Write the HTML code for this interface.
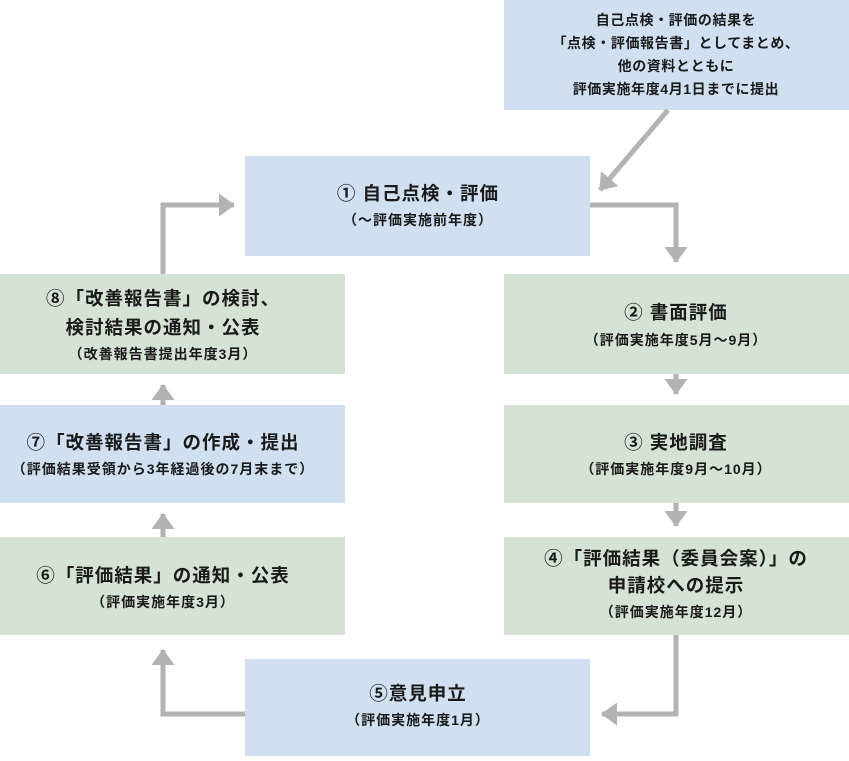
<!DOCTYPE html>
<html><head><meta charset="utf-8"><style>
body{margin:0;background:#fff}
svg text{font-family:"Liberation Sans","Noto Sans CJK JP",sans-serif;fill:#1a1a1a;text-anchor:middle;font-weight:bold}
.t{font-size:18.5px;letter-spacing:1px}.s{font-size:14px;letter-spacing:1px}.m{font-size:14px;letter-spacing:0.6px}
</style></head><body>
<svg width="849" height="756" viewBox="0 0 849 756" xmlns="http://www.w3.org/2000/svg">
<defs><marker id="a" markerWidth="5" markerHeight="5" refX="3" refY="2.5" orient="auto" markerUnits="strokeWidth"><path d="M0,0.2 L3.2,2.5 L0,4.8z" fill="#b3b3b3"/></marker></defs>
<g fill="#d0e0f0">
<rect x="504" y="0" width="345" height="110"/>
<rect x="245" y="156" width="345" height="100"/>
<rect x="245" y="659" width="345" height="97"/>
<rect x="0" y="405" width="345" height="98"/>
</g>
<g fill="#d4e3d3">
<rect x="504" y="274" width="345" height="100"/>
<rect x="504" y="405" width="345" height="98"/>
<rect x="504" y="537" width="345" height="98"/>
<rect x="0" y="537" width="345" height="98"/>
<rect x="0" y="274" width="345" height="100"/>
</g>
<g stroke="#b3b3b3" stroke-width="5" fill="none" marker-end="url(#a)">
<line x1="668" y1="110" x2="600" y2="190"/>
<polyline points="590,205 676,205 676,262"/>
<line x1="676" y1="374" x2="676" y2="394"/>
<line x1="676" y1="503" x2="676" y2="526"/>
<polyline points="676,635 676,714 602,714"/>
<polyline points="245,714 163,714 163,650"/>
<line x1="163" y1="537" x2="163" y2="514"/>
<line x1="163" y1="405" x2="163" y2="385"/>
<polyline points="163,274 163,205 234,205"/>
</g>
<text class="m" x="676" y="25">自己点検・評価の結果を</text>
<text class="m" x="676" y="48">「点検・評価報告書」としてまとめ、</text>
<text class="m" x="676" y="71">他の資料とともに</text>
<text class="m" x="676" y="94">評価実施年度4月1日までに提出</text>
<text class="t" x="418" y="200">① 自己点検・評価</text>
<text class="s" x="418" y="225">（～評価実施前年度）</text>
<text class="t" x="676" y="319">② 書面評価</text>
<text class="s" x="676" y="345">（評価実施年度5月～9月）</text>
<text class="t" x="676" y="449">③ 実地調査</text>
<text class="s" x="676" y="474">（評価実施年度9月～10月）</text>
<text class="t" x="676" y="565">④「評価結果（委員会案）」の</text>
<text class="t" x="676" y="592">申請校への提示</text>
<text class="s" x="676" y="617">（評価実施年度12月）</text>
<text class="t" x="418" y="700">⑤意見申立</text>
<text class="s" x="418" y="725">（評価実施年度1月）</text>
<text class="t" x="163" y="582">⑥「評価結果」の通知・公表</text>
<text class="s" x="163" y="607">（評価実施年度3月）</text>
<text class="t" x="163" y="449">⑦「改善報告書」の作成・提出</text>
<text class="s" x="163" y="474">（評価結果受領から3年経過後の7月末まで）</text>
<text class="t" x="163" y="305">⑧「改善報告書」の検討、</text>
<text class="t" x="163" y="334">検討結果の通知・公表</text>
<text class="s" x="163" y="359">（改善報告書提出年度3月）</text>
</svg>
</body></html>
